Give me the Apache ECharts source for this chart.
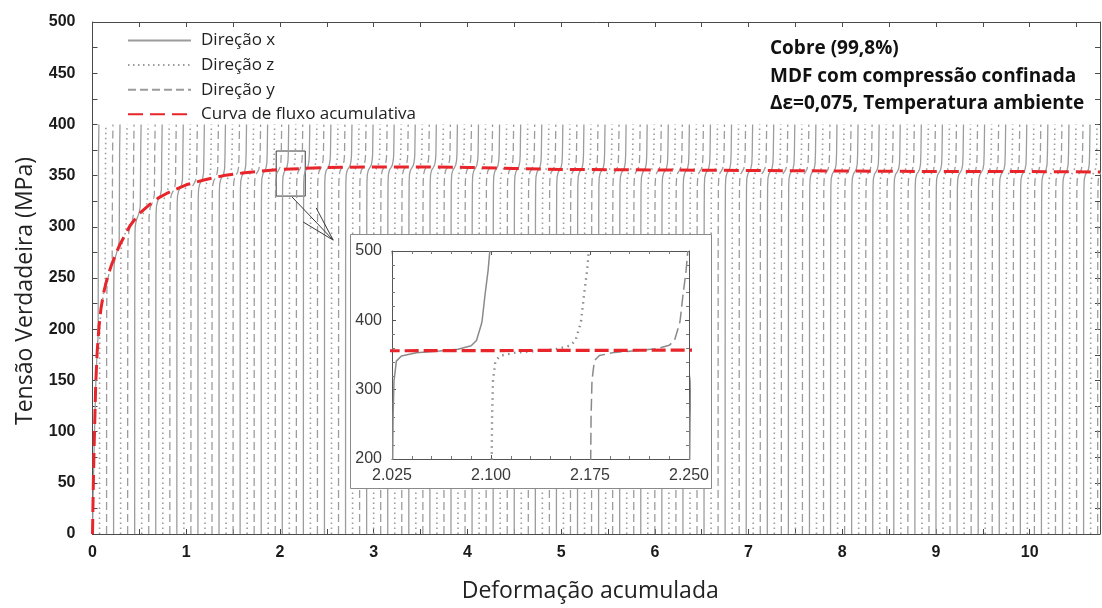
<!DOCTYPE html>
<html>
<head>
<meta charset="utf-8">
<title>Curva de fluxo acumulativa - Cobre MDF</title>
<script src="https://cdn.jsdelivr.net/npm/echarts@6/dist/echarts.min.js"></script>
<style>
  html, body { margin: 0; padding: 0; background: #fff; }
  #chart { width: 1102px; height: 608px; }
</style>
</head>
<body>
<div id="chart"></div>
<script>
// Accumulated flow curve (strain, true stress in MPa)
const flowStrain = [0, 0.01, 0.02, 0.035, 0.05, 0.07, 0.09, 0.12, 0.16, 0.2, 0.25, 0.3, 0.4, 0.5, 0.6, 0.7, 0.8, 0.9, 1.0, 1.2, 1.4, 1.6, 1.8, 2.0, 2.25, 2.5, 3.0, 3.5, 4.0, 4.5, 5.0, 6.0, 7.0, 8.0, 9.0, 10.0, 10.75];
const flowStress = [0, 55, 95, 148, 178, 203, 220, 236, 251, 262, 274, 284, 301, 313, 321, 328, 333, 337, 341, 346, 350, 352.5, 354.5, 356, 357, 358, 358.5, 358.5, 358, 357, 356, 355.5, 355, 354.5, 354, 354, 353.5];

// Single-pass stress-strain curve (strain offset within a pass, stress in MPa)
const passOffset = [0, 0.0003, 0.0008, 0.0015, 0.0033, 0.0071, 0.0185, 0.036, 0.05, 0.06, 0.064, 0.0678, 0.0683, 0.0703, 0.0728, 0.0741];
const passStress = [0, 150, 260, 313, 342, 349.5, 354, 356.5, 359, 364, 371, 395, 400, 434, 472, 500];
const passRefStress = 357;     // flow stress at which the single-pass curve was taken
const passFollowLimit = 365;   // below this the pass curve tracks the flow stress
const passStep = 0.075;        // Δε per pass
const strainMax = 10.75;
const mainStressCap = 400;     // pass curves in the main panel stop at this stress

// Pass direction sequence x, z, y
const directionNames = ['Direção x', 'Direção z', 'Direção y'];
const flowName = 'Curva de fluxo acumulativa';

// Zoom marker and pointer (strain, stress)
const zoomBox = [[1.96, 374], [2.27, 330]];
const pointerLines = [
  [[2.13, 329], [2.568, 287]],
  [[2.248, 304.7], [2.568, 287]],
  [[2.387, 318.4], [2.568, 287]]
];

// Inset ranges [min, max, step]
const insetStrain = [2.025, 2.25, 0.075];
const insetStress = [200, 500, 100];

const annotationLines = ['Cobre (99,8%)', 'MDF com compressão confinada', 'Δε=0,075, Temperatura ambiente'];

function flowAt(e) {
  if (e <= flowStrain[0]) return flowStress[0];
  for (let i = 1; i < flowStrain.length; i++) {
    if (e <= flowStrain[i]) {
      const t = (e - flowStrain[i - 1]) / (flowStrain[i] - flowStrain[i - 1]);
      return flowStress[i - 1] + t * (flowStress[i] - flowStress[i - 1]);
    }
  }
  return flowStress[flowStress.length - 1];
}

// One pass curve placed at its starting strain; the plateau follows the flow stress
function passPoints(start, cap) {
  const pts = [];
  for (let k = 0; k < passOffset.length; k++) {
    const s = passStress[k];
    if (cap != null && s > cap) break;
    const e = start + passOffset[k];
    const v = s <= passFollowLimit ? s * flowAt(e) / passRefStress : s;
    pts.push([e, v]);
  }
  return pts;
}

function directionData(dir, cap, fromStrain, toStrain) {
  const data = [];
  const nPass = Math.ceil(strainMax / passStep);
  for (let p = 0; p < nPass; p++) {
    if (p % 3 !== dir) continue;
    const start = p * passStep;
    if (start + passStep < fromStrain || start > toStrain) continue;
    passPoints(start, cap).forEach(pt => data.push(pt));
    data.push([start + passStep, null]);
  }
  return data;
}

const flowData = flowStrain.map((e, i) => [e, flowStress[i]]);

const grayColor = '#9c9c9c';
const dirStyles = [
  { type: 'solid', width: 1.3 },
  { type: [1.5, 3.5], width: 1.6 },
  { type: [8, 4], width: 1.3 }
];
const redColor = '#e8252a';
const axisColor = '#4a4a4a';
const textFont = '"Open Sans", Lato, sans-serif';
const tickLabelFont = { fontFamily: 'Liberation Sans, Arial, sans-serif', fontWeight: 'bold', fontSize: 16, color: '#1a1a1a' };

const series = [];
directionNames.forEach((name, d) => {
  series.push({
    name: name, type: 'line', xAxisIndex: 0, yAxisIndex: 0,
    data: directionData(d, mainStressCap, 0, strainMax),
    showSymbol: false, symbol: 'none', connectNulls: false,
    lineStyle: { color: grayColor, width: dirStyles[d].width, type: dirStyles[d].type },
    itemStyle: { color: grayColor },
    z: 2, silent: true
  });
});
series.push({
  name: flowName, type: 'line', xAxisIndex: 0, yAxisIndex: 0,
  data: flowData, showSymbol: false, symbol: 'none',
  lineStyle: { color: redColor, width: 3, type: [15, 7] },
  itemStyle: { color: redColor },
  z: 3, silent: true,
  markArea: {
    silent: true,
    itemStyle: { color: 'rgba(0,0,0,0)', borderColor: '#3a3a3a', borderWidth: 1 },
    data: [[{ coord: zoomBox[0] }, { coord: zoomBox[1] }]]
  }
});
series.push({
  type: 'lines', coordinateSystem: 'cartesian2d', xAxisIndex: 0, yAxisIndex: 0,
  data: pointerLines.map(c => ({ coords: c })),
  lineStyle: { color: '#3a3a3a', width: 1, opacity: 1 },
  z: 4, silent: true
});
// Inset: three consecutive passes around ε ≈ 2.1
directionNames.forEach((name, d) => {
  series.push({
    name: name, type: 'line', xAxisIndex: 2, yAxisIndex: 2,
    data: directionData(d, null, insetStrain[0] - passStep, insetStrain[1]),
    showSymbol: false, symbol: 'none', connectNulls: false, clip: true,
    lineStyle: { color: '#8a8a8a', width: d === 1 ? 2.4 : 1.5, type: d === 1 ? [1.5, 4.5] : (d === 2 ? [12, 5] : 'solid') },
    itemStyle: { color: grayColor },
    z: 13, silent: true
  });
});
series.push({
  name: flowName, type: 'line', xAxisIndex: 2, yAxisIndex: 2,
  data: flowData, showSymbol: false, symbol: 'none', clip: true,
  lineStyle: { color: redColor, width: 3.2, type: [14, 5] },
  itemStyle: { color: redColor },
  z: 14, silent: true
});

function mainAxisCommon() {
  return {
    axisLine: { show: true, onZero: false, lineStyle: { color: axisColor, width: 1 } },
    axisTick: { show: true, inside: true, length: 5, lineStyle: { color: axisColor } },
    minorTick: { show: true, splitNumber: 2, length: 5, lineStyle: { color: axisColor } },
    splitLine: { show: false }
  };
}

function insetAxisCommon(split) {
  return {
    axisLine: { show: true, onZero: false, lineStyle: { color: '#555', width: 1 } },
    axisTick: { show: true, inside: true, length: 4, lineStyle: { color: '#555' } },
    minorTick: { show: true, splitNumber: split, length: 3, lineStyle: { color: '#777' } },
    splitLine: { show: false },
    z: 12
  };
}

const insetLabelFont = { fontFamily: 'Liberation Sans, Arial, sans-serif', fontSize: 16, color: '#3a3a3a' };

const option = {
  animation: false,
  backgroundColor: '#ffffff',
  grid: [
    { left: 92.5, top: 22, width: 1007.5, height: 512, containLabel: false },
    { left: 392, top: 251, width: 297, height: 208, containLabel: false, z: 11 }
  ],
  legend: {
    data: directionNames.concat([flowName]),
    orient: 'vertical', left: 127, top: 32, padding: 0,
    itemWidth: 63, itemHeight: 14, itemGap: 7.6,
    itemStyle: { color: 'rgba(0,0,0,0)', borderWidth: 0, opacity: 0 },
    textStyle: { fontFamily: textFont, fontSize: 17, color: '#222', padding: [0, 0, 0, 5] },
    selectedMode: false
  },
  xAxis: [
    Object.assign(mainAxisCommon(), {
      type: 'value', gridIndex: 0, position: 'bottom', min: 0, max: strainMax, interval: 1,
      axisLabel: Object.assign({ margin: 11, showMaxLabel: false }, tickLabelFont),
      name: 'Deformação acumulada', nameLocation: 'middle', nameGap: 46,
      nameTextStyle: { fontFamily: textFont, fontSize: 23, color: '#222', padding: [0, 12, 0, 0] }
    }),
    Object.assign(mainAxisCommon(), {
      type: 'value', gridIndex: 0, position: 'top', min: 0, max: strainMax, interval: 1,
      axisLabel: { show: false }
    }),
    Object.assign(insetAxisCommon(5), {
      type: 'value', gridIndex: 1, position: 'bottom',
      min: insetStrain[0], max: insetStrain[1], interval: insetStrain[2],
      axisLabel: Object.assign({ margin: 9, formatter: v => v.toFixed(3) }, insetLabelFont)
    }),
    Object.assign(insetAxisCommon(5), {
      type: 'value', gridIndex: 1, position: 'top',
      min: insetStrain[0], max: insetStrain[1], interval: insetStrain[2],
      axisLabel: { show: false }
    })
  ],
  yAxis: [
    Object.assign(mainAxisCommon(), {
      type: 'value', gridIndex: 0, position: 'left', min: 0, max: 500, interval: 50,
      axisLabel: Object.assign({ margin: 17 }, tickLabelFont),
      name: 'Tensão Verdadeira (MPa)', nameLocation: 'middle', nameGap: 56, nameRotate: 90,
      nameTextStyle: { fontFamily: textFont, fontSize: 23, color: '#222', padding: [0, 26, 0, 0] }
    }),
    Object.assign(mainAxisCommon(), {
      type: 'value', gridIndex: 0, position: 'right', min: 0, max: 500, interval: 50,
      axisLabel: { show: false }
    }),
    Object.assign(insetAxisCommon(5), {
      type: 'value', gridIndex: 1, position: 'left',
      min: insetStress[0], max: insetStress[1], interval: insetStress[2],
      axisLabel: Object.assign({ margin: 10 }, insetLabelFont)
    }),
    Object.assign(insetAxisCommon(5), {
      type: 'value', gridIndex: 1, position: 'right',
      min: insetStress[0], max: insetStress[1], interval: insetStress[2],
      axisLabel: { show: false }
    })
  ],
  graphic: [
    {
      type: 'rect', z: 10, silent: true,
      shape: { x: 350.5, y: 234.5, width: 361, height: 254 },
      style: { fill: '#ffffff', stroke: '#8a8a8a', lineWidth: 1 }
    },
    {
      type: 'text', z: 20, silent: true, left: 770, top: 35,
      style: {
        text: annotationLines.join('\n'),
        font: 'bold 19px "Open Sans", Lato, sans-serif',
        lineHeight: 27.5, fill: '#111'
      }
    }
  ],
  series: series
};

const chart = echarts.init(document.getElementById('chart'), null, { renderer: 'canvas' });
chart.setOption(option);
</script>
</body>
</html>
